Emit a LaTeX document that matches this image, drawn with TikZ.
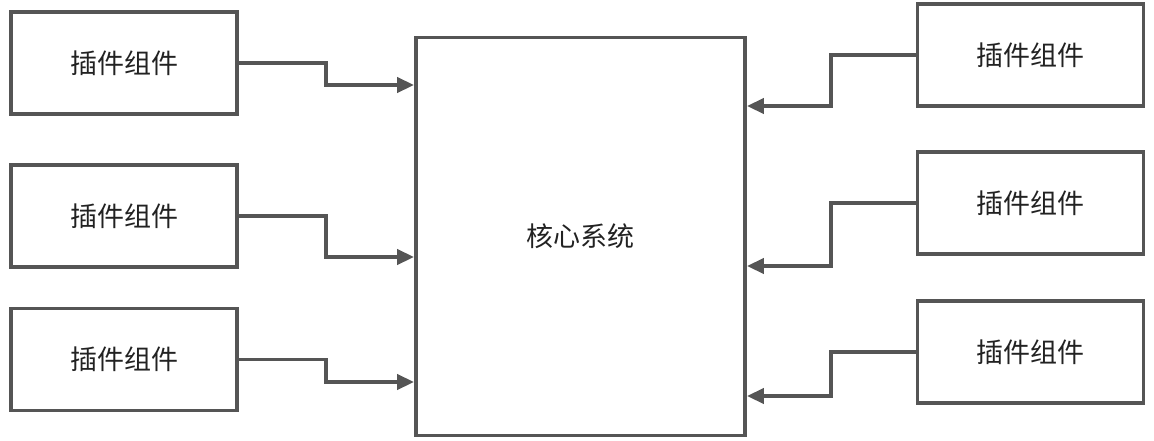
\documentclass[tikz,border=0pt]{standalone}
\usepackage{fontspec}
\newfontfamily\cjk{Noto Sans CJK SC}
\usetikzlibrary{arrows.meta}
\definecolor{lc}{HTML}{555555}
\definecolor{tc}{HTML}{222222}
\tikzset{
  box/.style={draw=lc, line width=3.8pt, rectangle, inner sep=0pt, font=\cjk\fontsize{27}{31}\selectfont, text=tc},
  conn/.style={draw=lc, line width=3.8pt, -{Triangle[length=17pt,width=15pt]}}
}
\begin{document}
\begin{tikzpicture}[x=1pt,y=-1pt]
\useasboundingbox (0,0) rectangle (1154,440);
% center
\node[box, minimum width=329pt, minimum height=398pt] (core) at (580.5,236.5) {核心系统};
% left boxes
\node[box, minimum width=226pt, minimum height=102pt] (l1) at (124,63) {插件组件};
\node[box, minimum width=226pt, minimum height=102pt] (l2) at (124,216) {插件组件};
\node[box, minimum width=226pt, minimum height=102pt] (l3) at (124,359.5) {插件组件};
% right boxes
\node[box, minimum width=226pt, minimum height=102pt] (r1) at (1030.5,55) {插件组件};
\node[box, minimum width=226pt, minimum height=102pt] (r2) at (1030.5,203) {插件组件};
\node[box, minimum width=226pt, minimum height=102pt] (r3) at (1030.5,352) {插件组件};
% connectors
\draw[conn] (l1.east) -- (326,63) |- (core.west |- 0,85);
\draw[conn] (l2.east) -- (326,216) |- (core.west |- 0,257);
\draw[conn] (l3.east) -- (326,359.5) |- (core.west |- 0,382);
\draw[conn] (r1.west) -- (831,55) |- (core.east |- 0,106);
\draw[conn] (r2.west) -- (831,203) |- (core.east |- 0,266);
\draw[conn] (r3.west) -- (831,352) |- (core.east |- 0,396);
\end{tikzpicture}
\end{document}
